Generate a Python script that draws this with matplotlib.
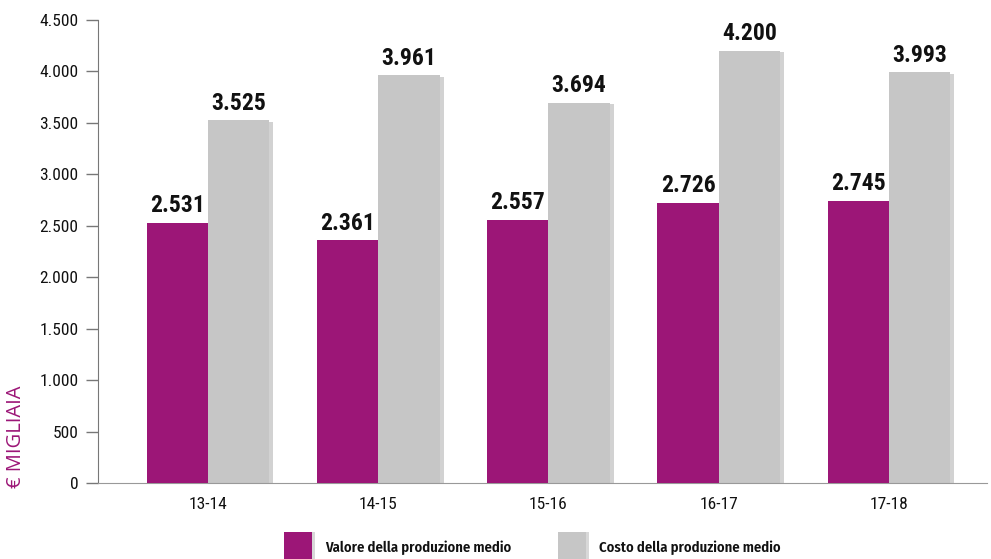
import matplotlib
matplotlib.use("Agg")
import matplotlib.pyplot as plt
import matplotlib.patheffects as pe
from matplotlib.patches import Rectangle
from matplotlib import font_manager
import numpy as np

# Data
stagioni = ["13-14", "14-15", "15-16", "16-17", "17-18"]
valore = [2531, 2361, 2557, 2726, 2745]
costo = [3525, 3961, 3694, 4200, 3993]
yticks = [0, 500, 1000, 1500, 2000, 2500, 3000, 3500, 4000, 4500]
labels_serie = ["Valore della produzione medio", "Costo della produzione medio"]

PURPLE = "#9C1677"
GREY = "#C6C6C6"
TEXT = "#111111"

names = {f.name for f in font_manager.fontManager.ttflist}


def pick(*cands):
    for c in cands:
        if c in names:
            return [c, "DejaVu Sans"]
    return ["DejaVu Sans"]


F_VAL = pick("Roboto Condensed", "Oswald", "Archivo Narrow", "Liberation Sans Narrow")
F_TICK = pick("Roboto Condensed", "Archivo Narrow", "Liberation Sans Narrow")
F_LEG = pick("Fira Sans Condensed", "Roboto Condensed", "Archivo Narrow")
F_YLAB = pick("Open Sans", "Noto Sans")


def fmt(v):
    return f"{v:,}".replace(",", ".")


fig = plt.figure(figsize=(9.91, 5.59), dpi=100)
ax = fig.add_axes([98 / 991, 1 - 483 / 559, (987 - 98) / 991, (483 - 20) / 559])

x = np.arange(len(stagioni))
w = 0.36
shadow = [pe.SimplePatchShadow(offset=(3, -1), shadow_rgbFace="#808080", alpha=0.35), pe.Normal()]

b1 = ax.bar(x - w / 2, valore, w, color=PURPLE, zorder=3)
b2 = ax.bar(x + w / 2, costo, w, color=GREY, zorder=2, path_effects=shadow)

for bars, vals in ((b1, valore), (b2, costo)):
    for r, v in zip(bars, vals):
        ax.annotate(fmt(v), (r.get_x() + r.get_width() / 2, v), xytext=(0, 4),
                    textcoords="offset points", ha="center", va="bottom",
                    fontsize=17, fontweight="bold", family=F_VAL, color=TEXT)

ax.set_xlim(-0.646, 4.576)
ax.set_ylim(0, 4500)
ax.set_yticks(yticks)
ax.set_yticklabels([fmt(t) for t in yticks], family=F_TICK, fontsize=12.5, color=TEXT)
ax.set_xticks(x)
ax.set_xticklabels(stagioni, family=F_TICK, fontsize=12.5, color=TEXT)
ax.tick_params(axis="y", length=9, width=1, color="#777777", pad=5)
ax.tick_params(axis="x", length=0, pad=10)
for s in ("top", "right"):
    ax.spines[s].set_visible(False)
ax.spines["left"].set_color("#777777")
ax.spines["bottom"].set_color("#999999")

fig.text(16 / 991, 1 - 437 / 559, "€ MIGLIAIA", rotation=90, ha="center", va="center",
         fontsize=14.5, family=F_YLAB, color=PURPLE)

# Legend
for x0, col, lab in ((284, PURPLE, labels_serie[0]), (558, GREY, labels_serie[1])):
    rect = Rectangle((x0 / 991, 0), 28 / 991, 27 / 559, transform=fig.transFigure,
                     facecolor=col, edgecolor="none",
                     path_effects=[pe.SimplePatchShadow(offset=(2, 0), shadow_rgbFace="#808080", alpha=0.3), pe.Normal()])
    fig.add_artist(rect)
    fig.text((x0 + 41) / 991, 1 - 548 / 559, lab, ha="left", va="center",
             fontsize=10.5, fontweight="semibold", family=F_LEG, color=TEXT)

fig.savefig("out.png", dpi=100)
